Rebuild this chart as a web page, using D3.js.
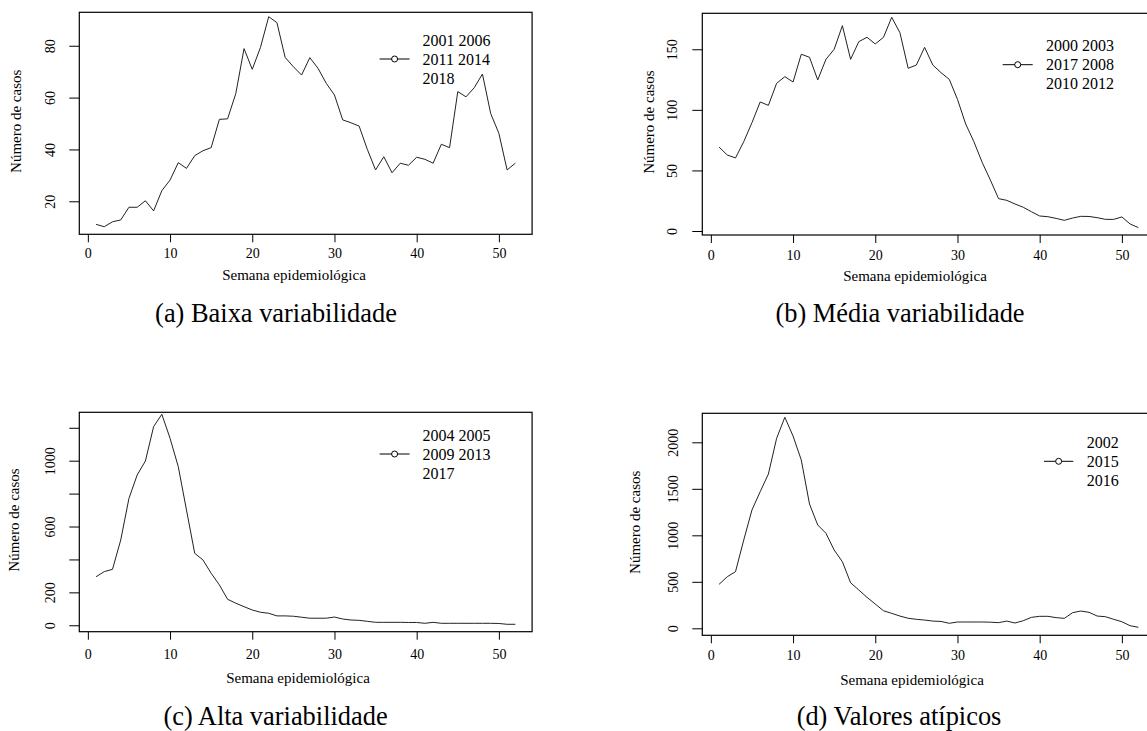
<!DOCTYPE html>
<html>
<head>
<meta charset="utf-8">
<script src="https://cdn.jsdelivr.net/npm/d3@7"></script>
<style>
body { margin: 0; background: #fff; }
svg { display: block; }
text { font-family: "Liberation Serif", "DejaVu Serif", serif; fill: #000; }
</style>
</head>
<body>
<svg></svg>
<script>
var weeks = d3.range(1, 53);

// casos por semana epidemiológica
var baixa = [11.1, 10.2, 12.1, 12.8, 17.7, 17.7, 20.2, 16.3, 24.1, 28.2,
  34.9, 32.7, 37.6, 39.5, 40.7, 51.6, 51.8, 61.6, 78.9, 70.9,
  79.4, 91.2, 88.9, 75.5, 71.9, 68.7, 75.4, 71.3, 65.5, 61.0,
  51.4, 50.3, 49.0, 40.0, 32.1, 37.2, 31.0, 34.7, 33.9, 37.0,
  36.2, 34.7, 42.0, 40.7, 62.3, 60.3, 63.8, 69.1, 53.9, 46.2,
  32.1, 34.7];
var media = [69.3, 62.7, 60.3, 73.7, 89.4, 106.5, 103.7, 121.9, 127.4, 123.0,
  145.9, 143.4, 124.7, 141.7, 150.0, 169.5, 141.7, 156.3, 159.9, 154.4,
  159.9, 176.4, 163.7, 134.3, 137.0, 151.6, 137.0, 130.7, 125.2, 108.7,
  88.3, 73.7, 56.7, 42.1, 26.7, 25.3, 22.3, 19.6, 15.9, 12.4,
  11.8, 10.4, 8.8, 10.7, 12.1, 12.0, 11.0, 9.6, 9.6, 11.6,
  5.8, 2.8];
var alta = [295, 326, 340, 518, 771, 913, 998, 1207, 1282, 1136,
  964, 700, 437, 397, 316, 245, 158, 134, 113, 93,
  79, 73, 57, 57, 55, 49, 43, 43, 43, 50,
  38, 32, 30, 24, 18, 18, 18, 18, 17, 17,
  12, 18, 12, 12, 12, 12, 12, 12, 12, 11,
  6, 6];
var atipicos = [473, 555, 609, 949, 1272, 1469, 1659, 2043, 2269, 2068,
  1810, 1337, 1111, 1022, 842, 716, 490, 412, 333, 261,
  189, 161, 132, 108, 97, 89, 78, 74, 54, 68,
  68, 68, 68, 66, 61, 78, 57, 82, 118, 129,
  129, 115, 107, 168, 186, 172, 132, 125, 97, 71,
  28, 11];

var legendA = ["2001 2006", "2011 2014", "2018"];
var legendB = ["2000 2003", "2017 2008", "2010 2012"];
var legendC = ["2004 2005", "2009 2013", "2017"];
var legendD = ["2002", "2015", "2016"];

var xTicks = [0, 10, 20, 30, 40, 50];
var yTicksA = [20, 40, 60, 80];
var yTicksB = [0, 50, 100, 150];
var yTicksC = [0, 200, 400, 600, 800, 1000, 1200];
var yLabelsC = [0, 200, 600, 1000];
var yTicksD = [0, 500, 1000, 1500, 2000];

var yDomA = [7.27, 92.9];
var yDomB = [-3.3, 179.7];
var yDomC = [-39, 1294];
var yDomD = [-75, 2312];

var xTitle = "Semana epidemiológica";
var yTitle = "Número de casos";

var svg = d3.select("svg").attr("width", 1147).attr("height", 731);

// R: xlim = range estendido em 4%
var ext = d3.extent(weeks);
var xDom = [ext[0] - 0.04 * (ext[1] - ext[0]), ext[1] + 0.04 * (ext[1] - ext[0])];

var panels = [
  { values: baixa, yDom: yDomA, yTicks: yTicksA, yLabels: yTicksA, legend: legendA, caption: "(a) Baixa variabilidade",
    left: 79.3, right: 532.1, top: 12.3, bottom: 234.3,
    xLabY: 254, xTitleX: 294, xTitleY: 279.5, yLabX: 50, yTitleX: 16,
    seg: [379.6, 409.6], legX: 422.5, legY: 40, capX: 276, capY: 322 },
  { values: media, yDom: yDomB, yTicks: yTicksB, yLabels: yTicksB, legend: legendB, caption: "(b) Média variabilidade",
    left: 702.3, right: 1155.1, top: 13.3, bottom: 235,
    xLabY: 255, xTitleX: 915, xTitleY: 281, yLabX: 672.7, yTitleX: 649,
    seg: [1002.7, 1032.7], legX: 1046, legY: 45.7, capX: 900, capY: 322 },
  { values: alta, yDom: yDomC, yTicks: yTicksC, yLabels: yLabelsC, legend: legendC, caption: "(c) Alta variabilidade",
    left: 79.3, right: 532.1, top: 412.3, bottom: 631.7,
    xLabY: 655, xTitleX: 298, xTitleY: 682.8, yLabX: 50, yTitleX: 13.6,
    seg: [379.6, 409.6], legX: 422.5, legY: 435, capX: 275.5, capY: 725 },
  { values: atipicos, yDom: yDomD, yTicks: yTicksD, yLabels: yTicksD, legend: legendD, caption: "(d) Valores atípicos",
    left: 702.3, right: 1155.1, top: 413.3, bottom: 635.3,
    xLabY: 656, xTitleX: 912, xTitleY: 685.2, yLabX: 673.3, yTitleX: 635,
    seg: [1044, 1073.3], legX: 1086.7, legY: 442.3, capX: 899, capY: 725 }
];

panels.forEach(function (p) {
  var g = svg.append("g");
  var x = d3.scaleLinear().domain(xDom).range([p.left, p.right]);
  var y = d3.scaleLinear().domain(p.yDom).range([p.bottom, p.top]);

  // eixo x
  var xa = g.append("g")
    .attr("transform", "translate(0," + p.bottom + ")")
    .call(d3.axisBottom(x).tickValues(xTicks).tickSize(8));
  xa.attr("font-size", 14).attr("font-family", null);
  xa.select(".domain").remove();
  xa.selectAll("text")
    .attr("y", p.xLabY - p.bottom)
    .attr("dy", null)
    .attr("dominant-baseline", "central");

  // eixo y, rótulos paralelos ao eixo
  var ya = g.append("g")
    .attr("transform", "translate(" + p.left + ",0)")
    .call(d3.axisLeft(y).tickValues(p.yTicks).tickSize(10)
      .tickFormat(function (d) { return p.yLabels.indexOf(d) >= 0 ? d : ""; }));
  ya.attr("font-size", 14).attr("font-family", null);
  ya.select(".domain").remove();
  ya.selectAll("text")
    .attr("x", null)
    .attr("dy", null)
    .attr("text-anchor", "middle")
    .attr("dominant-baseline", "central")
    .attr("transform", "translate(" + (p.yLabX - p.left) + ",0) rotate(-90)");

  g.append("rect")
    .attr("x", p.left).attr("y", p.top)
    .attr("width", p.right - p.left).attr("height", p.bottom - p.top)
    .attr("fill", "none").attr("stroke", "#000").attr("stroke-width", 1.2);

  var line = d3.line()
    .x(function (d, i) { return x(weeks[i]); })
    .y(function (d) { return y(d); });

  g.append("path")
    .datum(p.values)
    .attr("d", line)
    .attr("fill", "none")
    .attr("stroke", "#222")
    .attr("stroke-width", 1);

  // legenda sem caixa
  var rowH = 19;
  var midY = p.legY + rowH;
  g.append("line")
    .attr("x1", p.seg[0]).attr("x2", p.seg[1])
    .attr("y1", midY).attr("y2", midY)
    .attr("stroke", "#000");
  g.append("circle")
    .attr("cx", (p.seg[0] + p.seg[1]) / 2).attr("cy", midY).attr("r", 3)
    .attr("fill", "#fff").attr("stroke", "#000");
  g.selectAll(".leg")
    .data(p.legend)
    .enter()
    .append("text")
    .attr("x", p.legX)
    .attr("y", function (d, i) { return p.legY + i * rowH; })
    .attr("dominant-baseline", "central")
    .attr("font-size", 16)
    .text(function (d) { return d; });

  g.append("text")
    .attr("x", p.xTitleX).attr("y", p.xTitleY)
    .attr("text-anchor", "middle")
    .attr("font-size", 15)
    .text(xTitle);

  g.append("text")
    .attr("transform", "translate(" + p.yTitleX + "," + ((p.top + p.bottom) / 2 - 2) + ") rotate(-90)")
    .attr("text-anchor", "middle")
    .attr("dominant-baseline", "central")
    .attr("font-size", 15)
    .text(yTitle);

  g.append("text")
    .attr("x", p.capX).attr("y", p.capY)
    .attr("text-anchor", "middle")
    .attr("font-size", 26.4)
    .text(p.caption);
});
</script>
</body>
</html>
